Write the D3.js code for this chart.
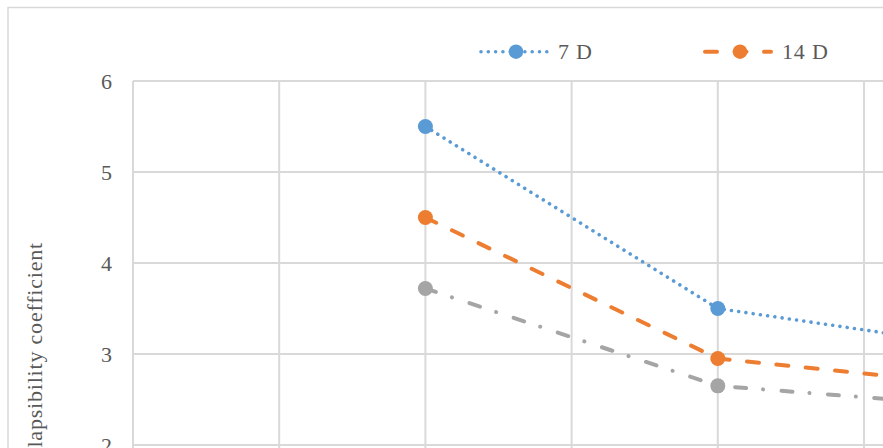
<!DOCTYPE html>
<html>
<head>
<meta charset="utf-8">
<script src="https://cdn.jsdelivr.net/npm/d3@7"></script>
<style>
  html, body { margin: 0; padding: 0; background: #fff; }
  svg { display: block; }
</style>
</head>
<body>
<svg id="chart" width="883" height="448"></svg>
<script>
// Sample positions along the horizontal axis
const xValues = [2, 4, 6];

// Collapsibility coefficient per curing age
const series7D = [5.5, 3.5, 3.03];
const series14D = [4.5, 2.95, 2.62];
const series28D = [3.72, 2.65, 2.40];

const seriesNames = ["7 D", "14 D", "28 D"];
const yTicks = [0, 1, 2, 3, 4, 5, 6];
const xGridTicks = [0, 1, 2, 3, 4, 5, 6, 7];
const yTitle = "Collapsibility coefficient";

const W = 883, H = 448;
const svg = d3.select("#chart");

const plotLeft = 133, plotTop = 81, unitY = 91, unitX = 146.2;

const x = d3.scaleLinear().domain([0, 1]).range([plotLeft, plotLeft + unitX]);
const y = d3.scaleLinear().domain([6, 0]).range([plotTop, plotTop + 6 * unitY]);

const textColor = "#595959";
const gridColor = "#d9d9d9";
const font = "'Liberation Serif', 'Times New Roman', serif";

// Chart frame
svg.append("rect")
  .attr("x", 8).attr("y", 7.5)
  .attr("width", W).attr("height", H)
  .attr("fill", "#fff")
  .attr("stroke", gridColor).attr("stroke-width", 1.5);

// Horizontal gridlines
svg.append("g").selectAll("line").data(yTicks).join("line")
  .attr("x1", plotLeft).attr("x2", x(xGridTicks[xGridTicks.length - 1]))
  .attr("y1", d => y(d)).attr("y2", d => y(d))
  .attr("stroke", gridColor).attr("stroke-width", 2);

// Vertical gridlines
svg.append("g").selectAll("line").data(xGridTicks).join("line")
  .attr("x1", d => x(d)).attr("x2", d => x(d))
  .attr("y1", y(6)).attr("y2", y(0))
  .attr("stroke", gridColor).attr("stroke-width", 2);

// Y axis tick labels
const yAxis = d3.axisLeft(y).tickValues(yTicks).tickSize(0).tickPadding(21).tickFormat(d3.format("d"));
const yg = svg.append("g").attr("transform", `translate(${plotLeft},0)`).call(yAxis);
yg.select(".domain").remove();
yg.selectAll("text")
  .attr("fill", textColor)
  .attr("font-family", font)
  .attr("font-size", 22)
  .attr("dy", "0.34em");

// Y axis title
svg.append("text")
  .attr("transform", "translate(42,242) rotate(-90)")
  .attr("text-anchor", "end")
  .attr("font-family", font)
  .attr("font-size", 22)
  .attr("letter-spacing", 0.8)
  .attr("fill", textColor)
  .text(yTitle);

// Series styling
const styles = [
  { color: "#5b9bd5", width: 3.6, dash: "0.01 7.3" },
  { color: "#ed7d31", width: 4, dash: "12 17.5" },
  { color: "#a5a5a5", width: 4, dash: "11 17 0.01 18.5" }
];
const allSeries = [series7D, series14D, series28D];

const line = d3.line().x(d => x(d[0])).y(d => y(d[1]));

allSeries.forEach((vals, i) => {
  const pts = xValues.map((xv, j) => [xv, vals[j]]);
  const st = styles[i];
  svg.append("path")
    .datum(pts)
    .attr("d", line)
    .attr("fill", "none")
    .attr("stroke", st.color)
    .attr("stroke-width", st.width)
    .attr("stroke-linecap", "round")
    .attr("stroke-dasharray", st.dash);
  svg.append("g").selectAll("circle").data(pts).join("circle")
    .attr("cx", d => x(d[0])).attr("cy", d => y(d[1]))
    .attr("r", 7.5)
    .attr("fill", st.color);
});

// Legend
const legendX0 = 481, legendStep = 224, legendY = 51.7;
seriesNames.forEach((name, i) => {
  const lx = legendX0 + i * legendStep;
  if (lx > W) return;
  const st = styles[i];
  const g = svg.append("g");
  g.append("line")
    .attr("x1", lx).attr("x2", lx + 66)
    .attr("y1", legendY).attr("y2", legendY)
    .attr("stroke", st.color)
    .attr("stroke-width", st.width)
    .attr("stroke-linecap", "round")
    .attr("stroke-dasharray", st.dash);
  g.append("circle")
    .attr("cx", lx + 35).attr("cy", legendY)
    .attr("r", 7.2).attr("fill", st.color);
  g.append("text")
    .attr("x", lx + 77).attr("y", legendY)
    .attr("dy", "0.34em")
    .attr("font-family", font)
    .attr("font-size", 22)
    .attr("letter-spacing", 0.8)
    .attr("fill", textColor)
    .text(name);
});
</script>
</body>
</html>
